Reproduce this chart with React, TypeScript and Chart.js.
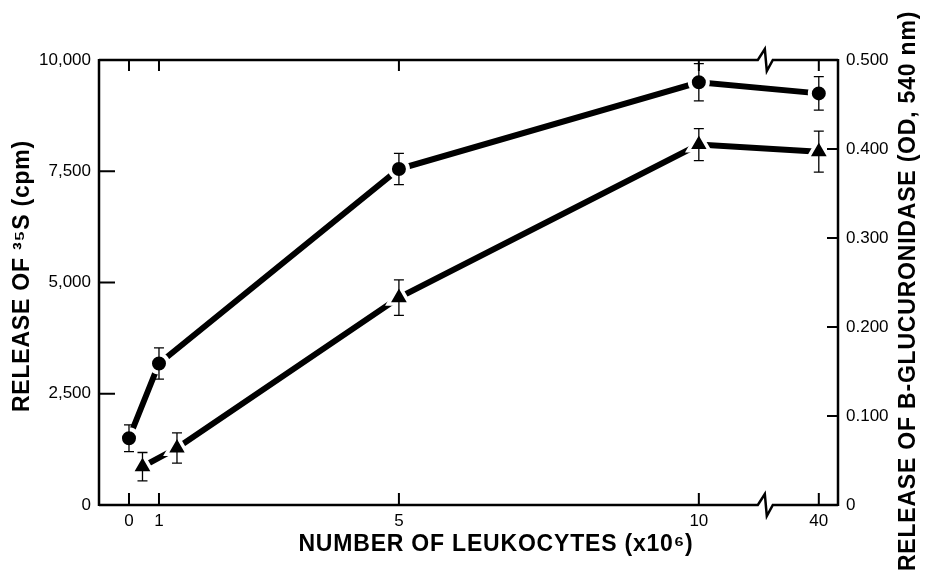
import React, { useEffect, useRef } from 'react';
import { Chart, registerables } from 'chart.js';
Chart.register(...registerables);

// ---- data ----
const xTickValues = [0, 1, 5, 10, 40];
const sulfateX = [0, 1, 5, 10, 40];
const sulfateRelease = [1500, 3180, 7550, 9500, 9250];
const sulfateError = [300, 350, 350, 420, 375];
const glucX = [0.45, 1.3, 5, 10, 40];
const glucRelease = [0.043, 0.064, 0.233, 0.405, 0.397];
const glucError = [0.016, 0.017, 0.02, 0.018, 0.023];
const leftTicks = [0, 2500, 5000, 7500, 10000];
const rightTicks = [0, 0.1, 0.2, 0.3, 0.4, 0.5];

const xTitle = 'NUMBER OF LEUKOCYTES (x10\u2076)';
const leftTitle = 'RELEASE OF \u00B3\u2075S (cpm)';
const rightTitle = 'RELEASE OF B-GLUCURONIDASE (OD, 540 nm)';

// broken x axis: 0..1 compressed, 1..10 linear, break, then 40
const BREAK_POS = 11.1;
const X_MAX = 12.32;
function xPos(v: number): number {
  if (v <= 1) return 0.5 + 0.5 * v;
  if (v <= 10) return v;
  return BREAK_POS + ((v - 10) * (12 - BREAK_POS)) / 30;
}

const FONT = '"Liberation Sans", Arial, Helvetica, sans-serif';

const framePlugin = {
  id: 'frame',
  afterDatasetsDraw(chart: any) {
    const { ctx, scales } = chart;
    ctx.save();
    ctx.strokeStyle = '#000';
    ctx.lineWidth = 1.3;
    const cap = 5;
    const bar = (px: number, y1: number, y2: number) => {
      ctx.beginPath();
      ctx.moveTo(px, y1);
      ctx.lineTo(px, y2);
      ctx.moveTo(px - cap, y1);
      ctx.lineTo(px + cap, y1);
      ctx.moveTo(px - cap, y2);
      ctx.lineTo(px + cap, y2);
      ctx.stroke();
    };
    sulfateX.forEach((v, i) => {
      const px = scales.x.getPixelForValue(xPos(v));
      bar(px, scales.y.getPixelForValue(sulfateRelease[i] + sulfateError[i]), scales.y.getPixelForValue(sulfateRelease[i] - sulfateError[i]));
    });
    glucX.forEach((v, i) => {
      const px = scales.x.getPixelForValue(xPos(v));
      bar(px, scales.y2.getPixelForValue(glucRelease[i] + glucError[i]), scales.y2.getPixelForValue(glucRelease[i] - glucError[i]));
    });
    ctx.restore();
  },
  afterDraw(chart: any) {
    const { ctx, chartArea, scales } = chart;
    const { left, right, top, bottom } = chartArea;
    const bx = scales.x.getPixelForValue(BREAK_POS);
    ctx.save();
    ctx.strokeStyle = '#000';
    ctx.lineWidth = 2.5;
    ctx.lineJoin = 'miter';
    // left & right axis lines
    ctx.beginPath();
    ctx.moveTo(left, top - 1);
    ctx.lineTo(left, bottom + 1);
    ctx.moveTo(right, top - 1);
    ctx.lineTo(right, bottom + 1);
    ctx.stroke();
    // top & bottom with break
    const hline = (y: number) => {
      ctx.beginPath();
      ctx.moveTo(left, y);
      ctx.lineTo(bx - 7, y);
      ctx.lineTo(bx, y - 11);
      ctx.lineTo(bx + 2, y + 11);
      ctx.lineTo(bx + 8, y);
      ctx.lineTo(right, y);
      ctx.stroke();
    };
    hline(top);
    hline(bottom);
    // inward ticks
    ctx.lineWidth = 2;
    ctx.beginPath();
    xTickValues.forEach((v) => {
      const px = scales.x.getPixelForValue(xPos(v));
      ctx.moveTo(px, bottom);
      ctx.lineTo(px, bottom - 12);
      ctx.moveTo(px, top);
      ctx.lineTo(px, top + 11);
    });
    leftTicks.forEach((v) => {
      const py = scales.y.getPixelForValue(v);
      ctx.moveTo(left, py);
      ctx.lineTo(left + 16, py);
    });
    rightTicks.forEach((v) => {
      const py = scales.y2.getPixelForValue(v);
      ctx.moveTo(right, py);
      ctx.lineTo(right - 11, py);
    });
    ctx.stroke();

    // titles
    ctx.fillStyle = '#000';
    ctx.font = `bold 23px ${FONT}`;
    try { (ctx as any).letterSpacing = '0.8px'; } catch (e) {}
    ctx.textAlign = 'center';
    ctx.textBaseline = 'middle';
    ctx.fillText(xTitle, 496, 545);
    ctx.save();
    ctx.translate(23, 276);
    ctx.rotate(-Math.PI / 2);
    ctx.fillText(leftTitle, 0, 0);
    ctx.restore();
    ctx.save();
    ctx.translate(909, 291);
    ctx.rotate(-Math.PI / 2);
    ctx.fillText(rightTitle, 0, 0);
    ctx.restore();
    ctx.restore();
  },
};

export default function App() {
  const ref = useRef<HTMLCanvasElement | null>(null);
  useEffect(() => {
    if (!ref.current) return;
    const tickFont = { family: FONT, size: 17 };
    const chart = new Chart(ref.current, {
      type: 'line',
      data: {
        datasets: [
          {
            label: '35S',
            data: sulfateX.map((v, i) => ({ x: xPos(v), y: sulfateRelease[i] })),
            yAxisID: 'y',
            borderColor: '#000',
            borderWidth: 6,
            backgroundColor: '#000',
            pointStyle: 'circle',
            pointRadius: 9,
            pointBorderWidth: 4,
            pointBorderColor: '#fff',
            pointBackgroundColor: '#000',
            tension: 0,
          },
          {
            label: 'glucuronidase',
            data: glucX.map((v, i) => ({ x: xPos(v), y: glucRelease[i] })),
            yAxisID: 'y2',
            borderColor: '#000',
            borderWidth: 6,
            backgroundColor: '#000',
            pointStyle: 'triangle',
            pointRadius: 12.5,
            pointBorderWidth: 3.5,
            pointBorderColor: '#fff',
            pointBackgroundColor: '#000',
            tension: 0,
          },
        ],
      },
      options: {
        responsive: false,
        animation: false,
        layout: { padding: { top: 60, left: 0, right: 0, bottom: 0 } },
        plugins: { legend: { display: false }, tooltip: { enabled: false } },
        scales: {
          x: {
            type: 'linear',
            min: 0,
            max: X_MAX,
            grid: { display: false, drawTicks: false },
            border: { display: false },
            afterBuildTicks: (s: any) => {
              s.ticks = xTickValues.map((v) => ({ value: xPos(v) }));
            },
            ticks: {
              autoSkip: false,
              maxRotation: 0,
              padding: 6,
              color: '#000',
              font: tickFont,
              callback: (_v: any, i: number) => String(xTickValues[i]),
            },
            afterFit: (s: any) => { s.height = 73; },
          },
          y: {
            type: 'linear',
            position: 'left',
            min: 0,
            max: 10000,
            grid: { display: false, drawTicks: false },
            border: { display: false },
            afterBuildTicks: (s: any) => {
              s.ticks = leftTicks.map((v) => ({ value: v }));
            },
            ticks: {
              padding: 8,
              color: '#000',
              font: tickFont,
              callback: (v: any) => Number(v).toLocaleString('en-US'),
            },
            afterFit: (s: any) => { s.width = 99; },
          },
          y2: {
            type: 'linear',
            position: 'right',
            min: 0,
            max: 0.5,
            grid: { display: false, drawTicks: false },
            border: { display: false },
            afterBuildTicks: (s: any) => {
              s.ticks = rightTicks.map((v) => ({ value: v }));
            },
            ticks: {
              padding: 8,
              color: '#000',
              font: tickFont,
              callback: (v: any) => (Number(v) === 0 ? '0' : Number(v).toFixed(3)),
            },
            afterFit: (s: any) => { s.width = 87; },
          },
        },
      },
      plugins: [framePlugin],
    } as any);
    return () => chart.destroy();
  }, []);
  return (
    <div style={{ position: 'absolute', left: 0, top: 0, width: 925, height: 578, background: '#fff' }}>
      <canvas ref={ref} width={925} height={578} style={{ display: 'block' }} />
    </div>
  );
}
